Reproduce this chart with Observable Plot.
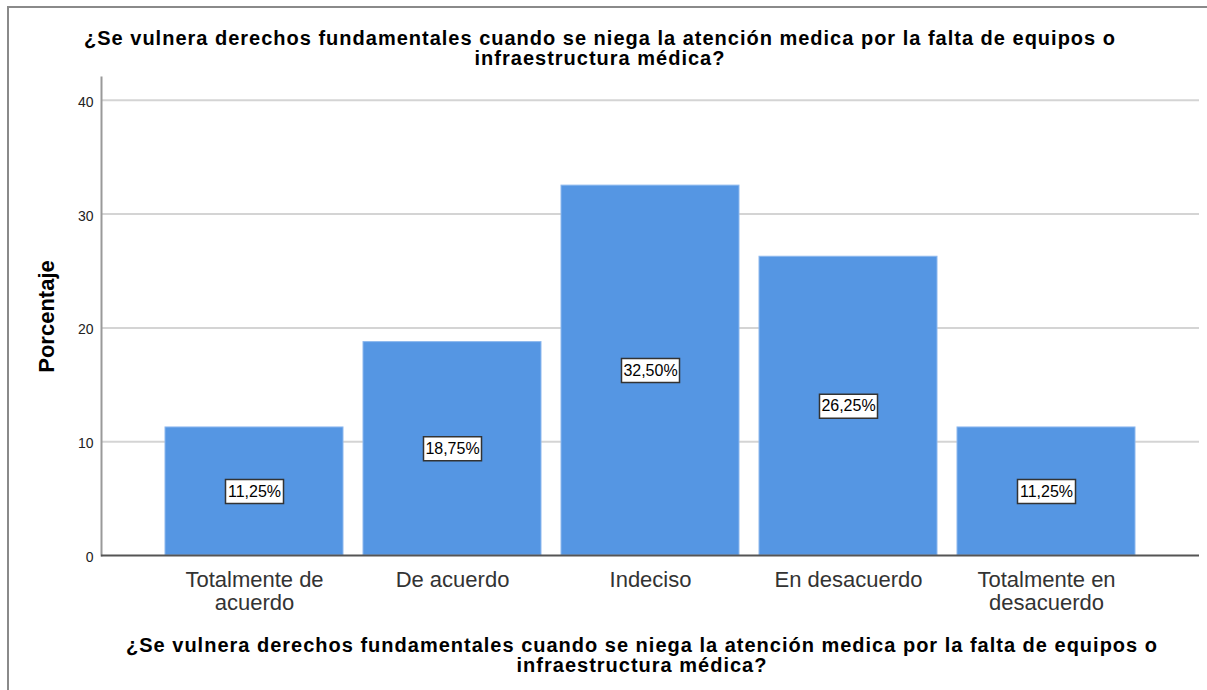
<!DOCTYPE html>
<html><head><meta charset="utf-8">
<script src="https://cdn.jsdelivr.net/npm/d3@7"></script>
<script src="https://cdn.jsdelivr.net/npm/@observablehq/plot@0.6"></script>
<style>
html,body{margin:0;padding:0;background:#fff;}
#chart{position:relative;width:1207px;height:690px;overflow:hidden;font-family:"Liberation Sans",Arial,sans-serif;}
#frame{position:absolute;left:7px;top:6px;width:1300px;height:800px;border-left:2px solid #8a8a8a;border-top:2px solid #8a8a8a;pointer-events:none}
.ttl{font-weight:bold;font-size:20px;letter-spacing:1px;line-height:20px;color:#000;text-align:center;white-space:nowrap;}
#title{padding-top:28px;width:1200px;}
#xtitle{padding-left:77px;margin-top:5px;width:1130px;}
svg{display:block}
</style></head><body>
<div id="chart"><div id="frame"></div>
<div id="title" class="ttl">¿Se vulnera derechos fundamentales cuando se niega la atención medica por la falta de equipos o<br>infraestructura médica?</div>
<div id="plot"></div>
<div id="xtitle" class="ttl">¿Se vulnera derechos fundamentales cuando se niega la atención medica por la falta de equipos o<br>infraestructura médica?</div>
</div>
<script>
const categories = ["Totalmente de acuerdo","De acuerdo","Indeciso","En desacuerdo","Totalmente en desacuerdo"];
const xTickLabels = ["Totalmente de\nacuerdo","De acuerdo","Indeciso","En desacuerdo","Totalmente en\ndesacuerdo"];
const percentages = [11.25, 18.75, 32.5, 26.25, 11.25];
const valueLabels = ["11,25%","18,75%","32,50%","26,25%","11,25%"];
const yTicks = [0,10,20,30,40];
const yLabel = "Porcentaje";

const data = categories.map((c,i)=>({category:c, value:percentages[i], label:valueLabels[i]}));
const box = {draw(ctx, size){ ctx.rect(-29,-12,58,24); }};

const plot = Plot.plot({
  width:1207, height:562, marginTop:9, marginBottom:75, marginLeft:101, marginRight:8,
  style:{fontFamily:'"Liberation Sans", Arial, sans-serif', background:"#fff", overflow:"visible"},
  x:{domain:categories, paddingInner:0.1, paddingOuter:0.32, align:0.5},
  y:{domain:[0,42]},
  marks:[
    Plot.gridY(yTicks.filter(d=>d>0), {stroke:"#d4d4d4", strokeOpacity:1, strokeWidth:2}),
    Plot.barY(data, {x:"category", y:"value", fill:"#5596E3", stroke:"#8db8ee", strokeWidth:1}),
    Plot.dot(data, {x:"category", y:d=>d.value/2, symbol: box, r: 10, fill:"#fff", stroke:"#333", strokeWidth:1.5}),
    Plot.text(data, {x:"category", y:d=>d.value/2, text:"label", fontSize:16, fill:"#000"}),
    Plot.frame({anchor:"left", stroke:"#999", strokeWidth:2}),
    Plot.ruleY([0], {stroke:"#555", strokeWidth:2}),
    Plot.axisY(yTicks, {tickSize:0, tickPadding:8, fontSize:14, fill:"#222", label:null, dy:2}),
    Plot.axisX({tickSize:0, tickPadding:15, fontSize:22, lineHeight:1.05, fill:"#333", label:null, tickFormat: d=>xTickLabels[categories.indexOf(d)]}),
    Plot.text([yLabel], {frameAnchor:"left", textAnchor:"middle", rotate:-90, dx:-55, fontSize:22, fontWeight:"bold", fill:"#000"})
  ]
});
document.getElementById("plot").appendChild(plot);
</script>
</body></html>
